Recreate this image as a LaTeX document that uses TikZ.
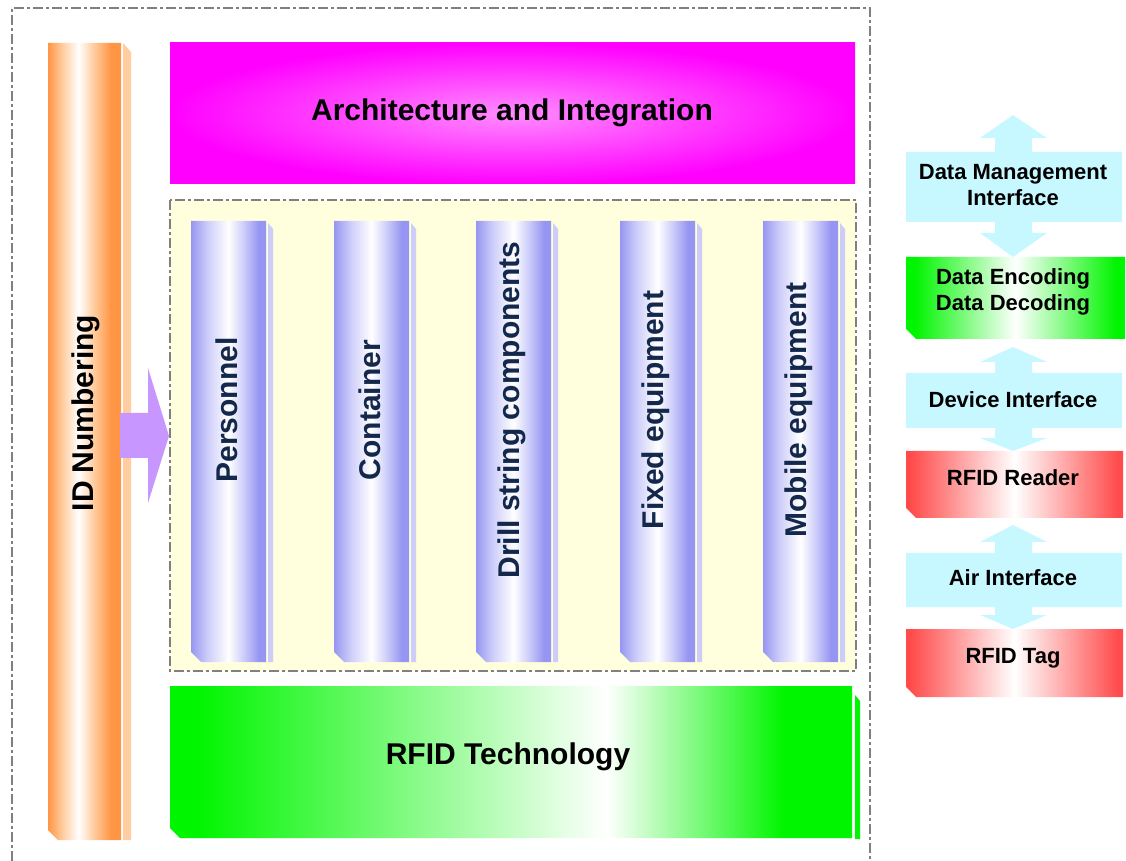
\documentclass[tikz,border=0pt]{standalone}
\usepackage{fontspec}
\setmainfont{Liberation Sans}
\definecolor{idorange}{RGB}{255,150,70}
\definecolor{idlight}{RGB}{255,205,160}
\definecolor{colblue}{RGB}{150,150,242}
\definecolor{collight}{RGB}{205,205,250}
\definecolor{boxcyan}{RGB}{200,248,255}
\definecolor{boxred}{RGB}{255,75,75}
\definecolor{boxgreen}{RGB}{0,245,0}
\definecolor{paleyellow}{RGB}{255,255,222}
\definecolor{arrowviolet}{RGB}{200,150,255}
\definecolor{navytext}{RGB}{20,40,75}
\pgfdeclarehorizontalshading{idshade}{100bp}{color(0bp)=(idorange); color(25bp)=(idorange); color(35bp)=(idlight); color(46bp)=(white); color(56bp)=(idlight); color(68bp)=(idorange); color(100bp)=(idorange)}
\pgfdeclarehorizontalshading{colshade}{100bp}{color(0bp)=(colblue); color(25bp)=(colblue); color(36bp)=(collight); color(50bp)=(white); color(60bp)=(collight); color(70bp)=(colblue); color(100bp)=(colblue)}
\pgfdeclarehorizontalshading{rfidshade}{100bp}{color(0bp)=(boxgreen); color(27bp)=(boxgreen); color(57bp)=(white); color(70bp)=(boxgreen); color(100bp)=(boxgreen)}
\pgfdeclarehorizontalshading{greenshade}{100bp}{color(0bp)=(boxgreen); color(27bp)=(boxgreen); color(50bp)=(white); color(73bp)=(boxgreen); color(100bp)=(boxgreen)}
\pgfdeclarehorizontalshading{redshade}{100bp}{color(0bp)=(boxred); color(26bp)=(boxred); color(50bp)=(white); color(74bp)=(boxred); color(100bp)=(boxred)}
\begin{document}
\begin{tikzpicture}[x=0.5pt,y=-0.5pt,
  frame/.style={draw=gray,line width=0.6pt,dash pattern=on 5pt off 1.5pt on 1.5pt off 1.5pt},
  biglbl/.style={font=\fontsize{15}{18}\selectfont\bfseries},
  smalllbl/.style={font=\fontsize{11}{13}\selectfont\bfseries,align=center}]
\useasboundingbox (0,0) rectangle (1126,861);
\draw[frame] (12,861) -- (12,8) -- (870,8) -- (870,861);
\shade[shading=idshade] (48,43) -- (121,43) -- (121,840) -- (58,840) -- (48,830) -- cycle;
\fill[idlight] (123,43) -- (131,52) -- (131,840) -- (123,840) -- cycle;
\node[biglbl,rotate=90] (idnum) at (86,413) {ID Numbering};
\shade[inner color=magenta!45!white,outer color=magenta] (170,43) rectangle (855,184);
\node[biglbl] (arch) at (512,113) {Architecture and Integration};
\filldraw[fill=paleyellow,frame] (170,200) rectangle (856,671);
\foreach \x/\lab [count=\i] in {191/Personnel,334/Container,476/Drill string components,620/Fixed equipment,763/Mobile equipment}{
  \shade[shading=colshade] (\x,221) -- (\x+75,221) -- (\x+75,662) -- (\x+10,662) -- (\x,652) -- cycle;
  \fill[collight] (\x+77,223) -- (\x+82,229) -- (\x+82,662) -- (\x+77,662) -- cycle;
  \node[biglbl,rotate=90,text=navytext] (col\i) at (\x+36,410) {\lab};
}
\shade[shading=rfidshade] (170,686) -- (852,686) -- (852,838) -- (180,838) -- (170,828) -- cycle;
\fill[boxgreen] (855,695) -- (860,701) -- (860,839) -- (855,839) -- cycle;
\node[biglbl] (rfidtech) at (508,757) {RFID Technology};
\fill[arrowviolet] (120,413) -- (148,413) -- (148,368) -- (169,436) -- (148,503) -- (148,458) -- (120,458) -- cycle;
\foreach \ta/\ha/\ya/\yb/\hb/\tb in {115/138/152/222/233/257,347/362/373/428/438/451,525/542/553/607/615/629}{
  \fill[boxcyan] (906,\ya) -- (995,\ya) -- (995,\ha) -- (980,\ha) -- (1013,\ta) -- (1047,\ha) -- (1032,\ha) -- (1032,\ya)
    -- (1122,\ya) -- (1122,\yb) -- (1032,\yb) -- (1032,\hb) -- (1047,\hb) -- (1013,\tb) -- (980,\hb) -- (995,\hb) -- (995,\yb)
    -- (906,\yb) -- cycle;
}
\shade[shading=greenshade] (906,257) -- (1125,257) -- (1125,339) -- (916,339) -- (906,329) -- cycle;
\shade[shading=redshade] (906,451) -- (1123,451) -- (1123,518) -- (916,518) -- (906,508) -- cycle;
\shade[shading=redshade] (906,629) -- (1123,629) -- (1123,697) -- (916,697) -- (906,687) -- cycle;
\node[smalllbl] (dmi) at (1013,185) {Data Management\\Interface};
\node[smalllbl] (enc) at (1013,292) {Data Encoding\\Data Decoding};
\node[smalllbl] (devi) at (1013,400) {Device Interface};
\node[smalllbl] (reader) at (1013,478) {RFID Reader};
\node[smalllbl] (airi) at (1013,578) {Air Interface};
\node[smalllbl] (tag) at (1013,658) {RFID Tag};
\end{tikzpicture}
\end{document}
